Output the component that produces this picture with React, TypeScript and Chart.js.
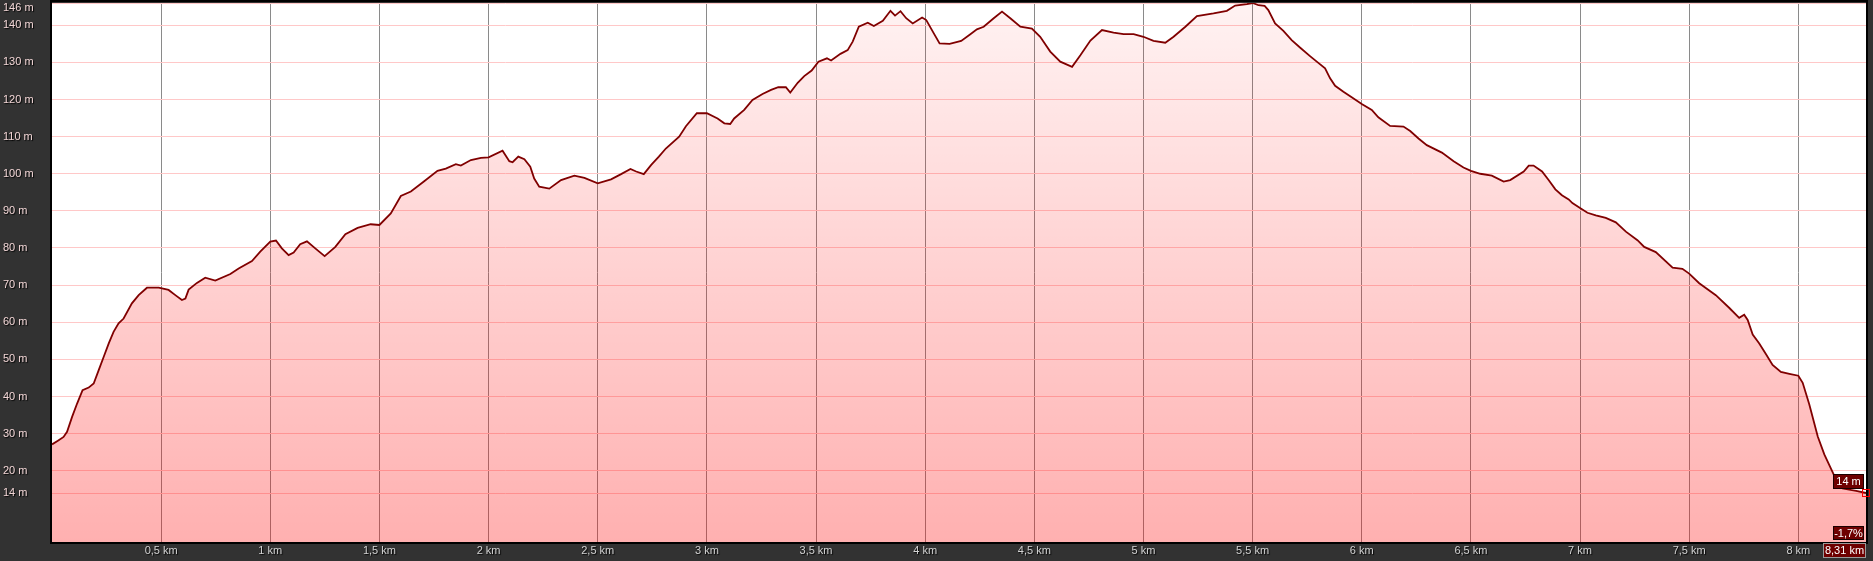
import React, { useEffect, useRef } from 'react';
import { Chart, registerables } from 'chart.js';

Chart.register(...registerables);

// ---- data ----
const distanceKm = [
  0.000, 0.027, 0.053, 0.069, 0.092, 0.115, 0.140, 0.168, 0.191, 0.214,
  0.237, 0.260, 0.282, 0.305, 0.328, 0.366, 0.397, 0.435, 0.489, 0.534,
  0.565, 0.595, 0.611, 0.626, 0.664, 0.702, 0.748, 0.817, 0.855, 0.916,
  0.954, 1.000, 1.026, 1.053, 1.084, 1.107, 1.137, 1.168, 1.206, 1.249,
  1.298, 1.344, 1.400, 1.460, 1.500, 1.552, 1.598, 1.644, 1.705, 1.766,
  1.804, 1.850, 1.873, 1.919, 1.965, 2.000, 2.064, 2.095, 2.110, 2.136,
  2.164, 2.191, 2.209, 2.232, 2.278, 2.332, 2.393, 2.439, 2.500, 2.561,
  2.607, 2.650, 2.676, 2.711, 2.745, 2.780, 2.812, 2.873, 2.904, 2.954,
  3.000, 3.049, 3.080, 3.107, 3.125, 3.171, 3.209, 3.255, 3.294, 3.327,
  3.362, 3.382, 3.416, 3.446, 3.480, 3.511, 3.550, 3.569, 3.612, 3.645,
  3.668, 3.696, 3.737, 3.765, 3.806, 3.841, 3.862, 3.887, 3.913, 3.943,
  3.986, 4.005, 4.035, 4.066, 4.112, 4.165, 4.207, 4.237, 4.268, 4.314,
  4.352, 4.390, 4.436, 4.489, 4.527, 4.573, 4.619, 4.673, 4.711, 4.757,
  4.810, 4.863, 4.909, 4.955, 5.000, 5.046, 5.100, 5.138, 5.192, 5.245,
  5.321, 5.382, 5.420, 5.474, 5.500, 5.527, 5.555, 5.572, 5.603, 5.641,
  5.679, 5.717, 5.763, 5.794, 5.832, 5.855, 5.878, 5.916, 5.954, 6.000,
  6.046, 6.076, 6.130, 6.191, 6.222, 6.260, 6.298, 6.367, 6.421, 6.466,
  6.500, 6.543, 6.596, 6.650, 6.680, 6.742, 6.765, 6.787, 6.826, 6.856,
  6.887, 6.917, 6.948, 6.965, 7.000, 7.034, 7.072, 7.118, 7.164, 7.210,
  7.263, 7.294, 7.347, 7.424, 7.469, 7.500, 7.546, 7.622, 7.683, 7.729,
  7.752, 7.768, 7.791, 7.821, 7.852, 7.882, 7.920, 7.959, 8.000, 8.020,
  8.050, 8.089, 8.119, 8.165, 8.203, 8.265, 8.310,
];

const elevationM = [
  27.1, 28.1, 29.1, 30.5, 34.5, 38.1, 41.7, 42.4, 43.5, 47.1,
  50.7, 54.3, 57.4, 59.7, 61.0, 65.1, 67.3, 69.3, 69.3, 68.7,
  67.3, 66.0, 66.4, 68.8, 70.6, 72.0, 71.2, 73.0, 74.5, 76.5,
  79.0, 81.7, 82.0, 79.9, 78.1, 78.8, 81.0, 81.8, 79.9, 77.8,
  80.3, 83.7, 85.4, 86.4, 86.2, 89.3, 94.0, 95.2, 98.0, 100.8,
  101.4, 102.6, 102.2, 103.7, 104.3, 104.4, 106.2, 103.4, 103.1, 104.6,
  103.9, 101.9, 98.7, 96.5, 96.0, 98.3, 99.5, 98.9, 97.4, 98.5,
  99.9, 101.3, 100.6, 99.9, 102.4, 104.6, 106.8, 110.0, 112.8, 116.3,
  116.3, 114.9, 113.6, 113.4, 114.9, 117.2, 119.9, 121.5, 122.6, 123.3,
  123.3, 121.9, 124.5, 126.3, 127.8, 130.2, 131.1, 130.5, 132.3, 133.3,
  135.6, 139.6, 140.7, 139.8, 141.2, 143.9, 142.6, 143.8, 141.9, 140.5,
  142.1, 141.4, 138.3, 135.1, 135.0, 135.8, 137.6, 138.9, 139.6, 141.9,
  143.7, 141.9, 139.6, 139.1, 136.9, 132.9, 130.2, 128.8, 131.9, 135.9,
  138.7, 138.0, 137.6, 137.6, 136.9, 135.8, 135.3, 136.9, 139.6, 142.5,
  143.2, 143.9, 145.3, 145.7, 146.0, 145.4, 145.2, 144.1, 140.5, 138.5,
  136.0, 134.0, 131.7, 130.2, 128.4, 125.7, 123.7, 122.1, 120.6, 118.8,
  117.2, 115.2, 112.9, 112.7, 111.5, 109.5, 107.7, 105.7, 103.4, 101.7,
  100.8, 100.0, 99.5, 97.9, 98.3, 100.6, 102.2, 102.2, 100.6, 98.3,
  95.8, 94.2, 93.1, 92.1, 90.8, 89.5, 88.8, 88.1, 86.9, 84.4,
  82.1, 80.3, 78.9, 74.7, 74.4, 73.1, 70.5, 67.3, 63.9, 61.2,
  62.0, 60.6, 56.7, 54.3, 51.4, 48.5, 46.6, 46.1, 45.6, 43.7,
  37.9, 29.2, 24.4, 18.6, 15.2, 14.6, 14.0,
];

const xTickKm = [0.5, 1, 1.5, 2, 2.5, 3, 3.5, 4, 4.5, 5, 5.5, 6, 6.5, 7, 7.5, 8];
const yTickM = [14, 20, 30, 40, 50, 60, 70, 80, 90, 100, 110, 120, 130, 140, 146];
const totalKm = 8.31;
const endGradePct = -1.7;
const yAxisMin = 0.8;
const yAxisMax = 146;

const FONT = '"Liberation Sans", Arial, sans-serif';

const fmt = (v: number, d: number) => v.toFixed(d).replace('.', ',');
const fmtKm = (v: number) => String(v).replace('.', ',');

function drawBox(
  ctx: CanvasRenderingContext2D,
  text: string,
  right: number,
  top: number,
  width: number,
  height: number,
  borderColor: string
) {
  ctx.fillStyle = '#6e0000';
  ctx.fillRect(right - width, top, width, height);
  ctx.strokeStyle = borderColor;
  ctx.lineWidth = 1;
  ctx.strokeRect(right - width + 0.5, top + 0.5, width - 1, height - 1);
  ctx.fillStyle = '#ffffff';
  ctx.textAlign = 'center';
  ctx.textBaseline = 'middle';
  ctx.fillText(text, right - width / 2, top + height / 2 + 0.5);
}

const framePlugin = {
  id: 'frame',
  beforeDraw(chart: any) {
    const { ctx, chartArea: a } = chart;
    ctx.save();
    ctx.fillStyle = '#323232';
    ctx.fillRect(0, 0, chart.width, chart.height);
    ctx.fillStyle = '#ffffff';
    ctx.fillRect(a.left, a.top, a.right - a.left, a.bottom - a.top);
    ctx.restore();
  },
  afterDatasetsDraw(chart: any) {
    const { ctx, chartArea: a } = chart;
    ctx.save();
    ctx.strokeStyle = '#000000';
    ctx.lineWidth = 2;
    ctx.strokeRect(a.left - 1, a.top - 2, a.right - a.left + 2, a.bottom - a.top + 3);
    ctx.restore();
    // shadow for the tick labels drawn next (ticks z = 1)
    ctx.shadowColor = 'rgba(0,0,0,0.9)';
    ctx.shadowOffsetX = 1;
    ctx.shadowOffsetY = 1;
    ctx.shadowBlur = 1;
  },
  afterDraw(chart: any) {
    const { ctx, chartArea: a, scales } = chart;
    ctx.shadowColor = 'rgba(0,0,0,0)';
    ctx.shadowOffsetX = 0;
    ctx.shadowOffsetY = 0;
    ctx.shadowBlur = 0;
    ctx.save();
    const lastKm = distanceKm[distanceKm.length - 1];
    const lastEle = elevationM[elevationM.length - 1];
    const px = scales.x.getPixelForValue(lastKm);
    const py = scales.y.getPixelForValue(lastEle);

    ctx.font = `11px ${FONT}`;
    const eleText = `${Math.round(lastEle)} m`;
    const gradeText = `${fmt(endGradePct, 1)}%`;
    const kmText = `${fmt(totalKm, 2)} km`;
    const w = Math.ceil(Math.max(ctx.measureText(eleText).width, ctx.measureText(gradeText).width)) + 2;

    drawBox(ctx, eleText, a.right - 2, Math.round(py) - 19, w, 15, '#1a0000');
    drawBox(ctx, gradeText, a.right - 2, a.bottom - 16, w, 14, '#1a0000');
    const kw = Math.ceil(ctx.measureText(kmText).width) + 3;
    drawBox(ctx, kmText, a.right, a.bottom + 1, kw, 15, '#9a9a9a');

    ctx.strokeStyle = '#ff0000';
    ctx.lineWidth = 1;
    ctx.strokeRect(Math.round(px) - 3.5, Math.round(py) - 3.5, 7, 7);
    ctx.restore();
  },
};

export default function App() {
  const ref = useRef<HTMLCanvasElement | null>(null);

  useEffect(() => {
    document.body.style.margin = '0';
    document.body.style.background = '#323232';
    const canvas = ref.current;
    if (!canvas) return;
    const points = distanceKm.map((d, i) => ({ x: d, y: elevationM[i] }));

    const chart = new Chart(canvas, {
      type: 'line',
      data: {
        datasets: [
          {
            data: points,
            borderColor: '#800000',
            borderWidth: 1.8,
            pointRadius: 0,
            tension: 0,
            fill: 'start',
            backgroundColor: (c: any) => {
              const area = c.chart.chartArea;
              if (!area) return 'rgba(255,0,0,0.2)';
              const g = c.chart.ctx.createLinearGradient(0, area.top, 0, area.bottom);
              g.addColorStop(0, 'rgba(255,0,0,0.05)');
              g.addColorStop(1, 'rgba(255,0,0,0.31)');
              return g;
            },
          },
        ],
      },
      options: {
        animation: false,
        responsive: false,
        devicePixelRatio: 1,
        layout: { padding: { left: 3, top: 3, right: 7, bottom: 0 } },
        plugins: {
          legend: { display: false },
          tooltip: { enabled: false },
        },
        scales: {
          x: {
            type: 'linear',
            min: 0,
            max: totalKm,
            afterBuildTicks: (s: any) => {
              s.ticks = xTickKm.map((v) => ({ value: v }));
            },
            afterFit: (s: any) => {
              s.height = 19;
              s.paddingLeft = 0;
              s.paddingRight = 0;
            },
            grid: { color: '#8a8a8a', lineWidth: 1, drawTicks: false },
            border: { display: false },
            ticks: {
              autoSkip: false,
              maxRotation: 0,
              padding: 2,
              color: '#d2d2d2',
              font: { family: FONT, size: 11 },
              z: 1,
              callback: (v: any) => `${fmtKm(Number(v))} km`,
            },
          },
          y: {
            type: 'linear',
            min: yAxisMin,
            max: yAxisMax,
            afterBuildTicks: (s: any) => {
              s.ticks = yTickM.map((v) => ({ value: v }));
            },
            afterFit: (s: any) => {
              s.width = 49;
              s.paddingTop = 0;
              s.paddingBottom = 0;
            },
            grid: { color: '#ffc8c8', lineWidth: 1, drawTicks: false },
            border: { display: false },
            ticks: {
              autoSkip: false,
              crossAlign: 'far',
              padding: 0,
              color: '#f2d6d6',
              font: { family: FONT, size: 11, lineHeight: 0.9 },
              z: 1,
              callback: (v: any) => (Number(v) === yAxisMax ? ['', `${v} m`] : `${v} m`),
            },
          },
        },
      },
      plugins: [framePlugin],
    } as any);

    return () => chart.destroy();
  }, []);

  return (
    <div style={{ width: 1873, height: 561 }}>
      <canvas ref={ref} width={1873} height={561} style={{ display: 'block' }} />
    </div>
  );
}
